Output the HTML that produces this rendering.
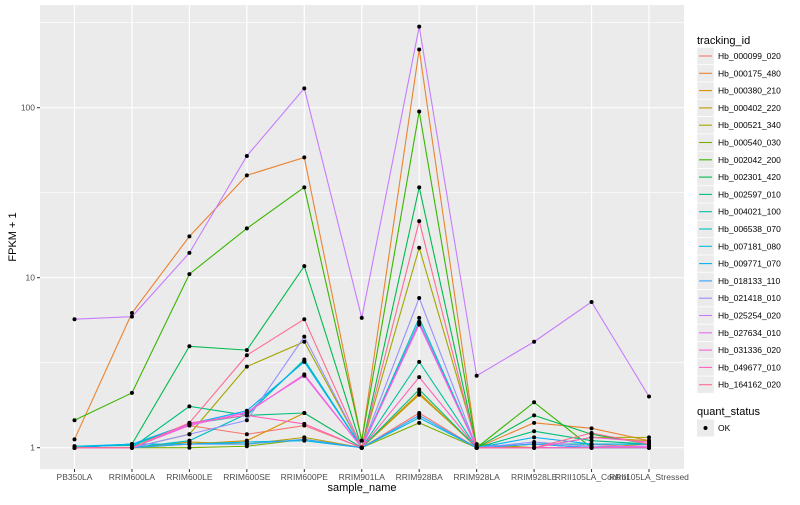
<!DOCTYPE html>
<html><head><meta charset="utf-8"><style>
body{margin:0;background:#fff;}
svg text{font-family:"Liberation Sans",sans-serif;}
</style></head><body>
<svg id="chart" width="800" height="500" xmlns="http://www.w3.org/2000/svg"></svg>
<script>
const categories=["PB350LA","RRIM600LA","RRIM600LE","RRIM600SE","RRIM600PE","RRIM901LA","RRIM928BA","RRIM928LA","RRIM928LE","RRII105LA_Control","RRII105LA_Stressed"];
const seriesNames=["Hb_000099_020","Hb_000175_480","Hb_000380_210","Hb_000402_220","Hb_000521_340","Hb_000540_030","Hb_002042_200","Hb_002301_420","Hb_002597_010","Hb_004021_100","Hb_006538_070","Hb_007181_080","Hb_009771_070","Hb_018133_110","Hb_021418_010","Hb_025254_020","Hb_027634_010","Hb_031336_020","Hb_049677_010","Hb_164162_020"];
const colors=["#F8766D","#EA8331","#D89000","#C09B00","#A3A500","#7CAE00","#39B600","#00BB4E","#00BF7D","#00C1A3","#00BFC4","#00BAE0","#00B0F6","#35A2FF","#9590FF","#C77CFF","#E76BF3","#FA62DB","#FF62BC","#FF6C91"];
const s01=[1,1.0,1.35,1.2,1.35,1,1.6,1,1.05,1.05,1.0];
const s02=[1.12,6.2,17.5,40,51,1.1,220,1.0,1.4,1.3,1.1];
const s03=[1,1,1.05,1.1,1.6,1,2.1,1,1.05,1.0,1.05];
const s04=[1,1,1.08,1.05,1.15,1,2.05,1.02,1.0,1.15,1.1];
const s05=[1,1,1.2,3.0,4.2,1,15,1.05,1.0,1.15,1.15];
const s06=[1,1,1.0,1.02,1.12,1,1.4,1,1.0,1.0,1.0];
const s07=[1.45,2.1,10.5,19.5,34,1.1,95,1.0,1.85,1.0,1.0];
const s08=[1.0,1.05,3.95,3.75,11.7,1.0,34,1.0,1.55,1.2,1.05];
const s09=[1,1,1.75,1.55,1.6,1,2.2,1,1.25,1.1,1.05];
const s10=[1.02,1.03,1.38,1.55,3.3,1,3.2,1,1.05,1.05,1.05];
const s11=[1,1,1.1,1.58,3.25,1,5.8,1,1,1.0,1.0];
const s12=[1.02,1.05,1.05,1.08,1.1,1,1.5,1,1.05,1.0,1.0];
const s13=[1,1.05,1.38,1.65,3.2,1,5.5,1,1.15,1.05,1.05];
const s14=[1,1,1.05,1.05,1.12,1,1.55,1,1.05,1.0,1.0];
const s15=[1,1,1.2,1.45,4.5,1,7.6,1,1.08,1.02,1.02];
const s16=[5.7,5.9,14,52,130,5.8,300,2.65,4.2,7.2,2.0];
const s17=[1,1,1.35,1.62,2.65,1,5.3,1,1.0,1.0,1.02];
const s18=[1,1,1.37,1.6,2.7,1,5.4,1,1.0,1.15,1.08];
const s19=[1,1,1.4,1.55,1.38,1,2.6,1,1.0,1.0,1.0];
const s20=[1,1,1.4,3.5,5.7,1,21.5,1,1.0,1.22,1.05];
const seriesValues=[s01,s02,s03,s04,s05,s06,s07,s08,s09,s10,s11,s12,s13,s14,s15,s16,s17,s18,s19,s20];
const yTicks=[1,10,100];
const yTickLabels=["1","10","100"];

const NS="http://www.w3.org/2000/svg";
const svg=document.getElementById("chart");
const PL=40,PR=684,PT=5,PB=469;
const x=i=>74.5+i*(649-74.5)/(categories.length-1);
const y=v=>447.7-170*Math.log10(v);
function el(t,a,p){const e=document.createElementNS(NS,t);for(const k in a)e.setAttribute(k,a[k]);(p||svg).appendChild(e);return e;}

const panel=el("rect",{x:PL,y:PT,width:PR-PL,height:PB-PT,fill:"#EBEBEB"});


// minor grid
[0.5,1.5,2.5].forEach(e=>{const yy=y(Math.pow(10,e));if(yy>PT&&yy<PB){const g=el("line",{x1:PL,x2:PR,y1:yy,y2:yy,stroke:"#fff","stroke-width":0.6});}});
yTicks.forEach((v,i)=>{
  const g=el("line",{x1:PL,x2:PR,y1:y(v),y2:y(v),stroke:"#fff","stroke-width":1.2});
  
  const tk=el("line",{x1:PL-3,x2:PL,y1:y(v),y2:y(v),stroke:"#333","stroke-width":1});
  
  const t=el("text",{x:PL-5,y:y(v)+3,"text-anchor":"end","font-size":"8.5",fill:"#4d4d4d"});t.textContent=yTickLabels[i];
  
});
categories.forEach((c,i)=>{
  const g=el("line",{x1:x(i),x2:x(i),y1:PT,y2:PB,stroke:"#fff","stroke-width":1.2});
  
  const tk=el("line",{x1:x(i),x2:x(i),y1:PB,y2:PB+3,stroke:"#333","stroke-width":1});
  
  const t=el("text",{x:x(i),y:PB+11,"text-anchor":"middle","font-size":"8.5",fill:"#4d4d4d"});t.textContent=c;
  
});
seriesValues.forEach((vals,si)=>{
  const p=el("polyline",{points:vals.map((v,i)=>x(i)+","+y(v)).join(" "),fill:"none",stroke:colors[si],"stroke-width":1.1});
  
});
seriesValues.forEach((vals,si)=>{
  vals.forEach((v,i)=>{
    const c=el("circle",{cx:x(i),cy:y(v),r:2,fill:"#000"});
    
  });
});
const xt=el("text",{x:362,y:491,"text-anchor":"middle","font-size":"11",fill:"#000"});xt.textContent="sample_name";

const yt=el("text",{x:16,y:237,"text-anchor":"middle","font-size":"11",fill:"#000",transform:"rotate(-90 16 237)"});yt.textContent="FPKM + 1";

// legend
const lt=el("text",{x:697,y:44,"font-size":"11",fill:"#000"});lt.textContent="tracking_id";

seriesNames.forEach((n,i)=>{
  const cy=56+i*17.3;
  const g=el("g",{});
  
  el("rect",{x:697,y:cy-8.5,width:17,height:17,fill:"#EBEBEB",stroke:"#fff","stroke-width":0.5},g);
  el("line",{x1:699,x2:712,y1:cy,y2:cy,stroke:colors[i],"stroke-width":1.1},g);
  const t=el("text",{x:718,y:cy+3,"font-size":"8.5",fill:"#000"},g);t.textContent=n;
});
const qt=el("text",{x:697,y:415,"font-size":"11",fill:"#000"});qt.textContent="quant_status";

const qg=el("g",{});

el("rect",{x:697,y:419.5,width:17,height:17,fill:"#EBEBEB"},qg);
el("circle",{cx:705.5,cy:428,r:2,fill:"#000"},qg);
const ok=el("text",{x:718,y:431,"font-size":"8.5",fill:"#000"},qg);ok.textContent="OK";
</script>
</body></html>
